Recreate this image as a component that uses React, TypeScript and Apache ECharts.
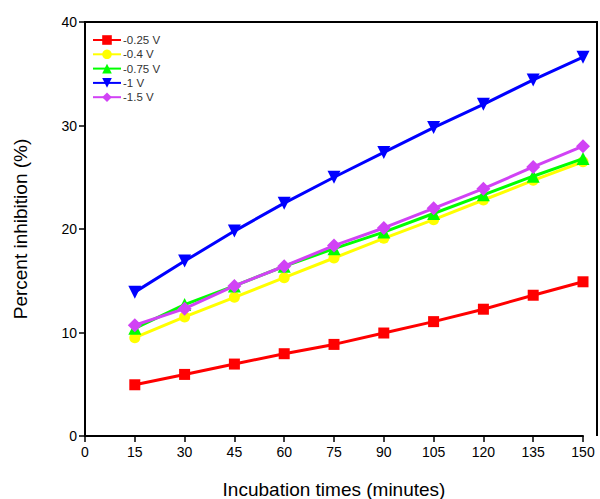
import React, { useEffect, useRef } from "react";
import * as echarts from "echarts";

const times = [15, 30, 45, 60, 75, 90, 105, 120, 135, 150];
const seriesNames = ["-0.25 V", "-0.4 V", "-0.75 V", "-1 V", "-1.5 V"];
const v025 = [4.95, 5.95, 6.95, 7.95, 8.85, 9.95, 11.05, 12.25, 13.6, 14.9];
const v04 = [9.5, 11.5, 13.4, 15.3, 17.2, 19.1, 20.9, 22.8, 24.7, 26.5];
const v075 = [10.4, 12.7, 14.5, 16.4, 18.1, 19.7, 21.5, 23.3, 25.1, 26.8];
const v1 = [13.9, 16.9, 19.8, 22.5, 25.0, 27.4, 29.8, 32.05, 34.4, 36.6];
const v15 = [10.7, 12.3, 14.5, 16.4, 18.4, 20.1, 22.0, 23.9, 26.0, 28.0];
const xTicks = [0, 15, 30, 45, 60, 75, 90, 105, 120, 135, 150];
const yTicks = [0, 10, 20, 30, 40];

const colors = ["#ff0000", "#ffff00", "#00ff00", "#0000ff", "#d142f5"];
const symbols = ["rect", "circle", "triangle", "triangle", "diamond"];
const rotates = [0, 0, 0, 180, 0];
const sizes = [11, 11, 13, 13, 14];
const allData = [v025, v04, v075, v1, v15];

export default function App() {
  const ref = useRef<HTMLDivElement>(null);
  useEffect(() => {
    if (!ref.current) return;
    const chart = echarts.init(ref.current, undefined, { renderer: "svg" });
    const font = "'Liberation Sans', Arial, sans-serif";
    chart.setOption({
      animation: false,
      textStyle: { fontFamily: font },
      grid: { left: 85, right: 17, top: 22, bottom: 63, containLabel: false, outerBoundsMode: "none" },
      legend: {
        orient: "vertical",
        left: 87,
        top: 29,
        itemWidth: 28,
        itemHeight: 12,
        itemGap: 2.3,
        textStyle: { fontSize: 11.5, color: "#333", fontFamily: font, padding: [0, 0, 0, -3] },
        data: seriesNames,
      },
      xAxis: {
        type: "value",
        min: xTicks[0],
        max: xTicks[xTicks.length - 1],
        interval: 15,
        name: "Incubation times (minutes)",
        nameLocation: "middle",
        nameGap: 44,
        nameTextStyle: { fontSize: 19, color: "#000", fontFamily: font },
        axisLine: { onZero: false, lineStyle: { color: "#000", width: 2 } },
        axisTick: { show: true, inside: false, length: 6, lineStyle: { color: "#000", width: 1.5 } },
        axisLabel: { fontSize: 14, color: "#000", margin: 9, fontFamily: font },
        splitLine: { show: false },
      },
      yAxis: {
        type: "value",
        min: yTicks[0],
        max: yTicks[yTicks.length - 1],
        interval: 10,
        name: "Percent inhibition (%)",
        nameLocation: "middle",
        nameGap: 55,
        nameTextStyle: { fontSize: 19, color: "#000", fontFamily: font },
        axisLine: { show: true, lineStyle: { color: "#000", width: 2 } },
        axisTick: { show: true, inside: false, length: 6, lineStyle: { color: "#000", width: 1.5 } },
        axisLabel: { fontSize: 14, color: "#000", margin: 8, fontFamily: font },
        splitLine: { show: false },
      },
      graphic: [
        {
          type: "polyline",
          shape: { points: [[84, 22], [597, 22], [597, 436]] },
          style: { stroke: "#000", lineWidth: 2, fill: null },
          silent: true,
          z: 10,
        },
      ],
      series: seriesNames.map((name, i) => ({
        name,
        type: "line",
        data: times.map((t, j) => [t, allData[i][j]]),
        color: colors[i],
        symbol: symbols[i],
        symbolRotate: rotates[i],
        symbolSize: sizes[i],
        showAllSymbol: true,
        clip: false,
        lineStyle: { width: 3, color: colors[i] },
        itemStyle: { color: colors[i] },
        z: 2 + i,
      })),
    });
    return () => chart.dispose();
  }, []);
  return <div ref={ref} style={{ width: 600, height: 499, position: "absolute", left: 0, top: 0 }} />;
}
